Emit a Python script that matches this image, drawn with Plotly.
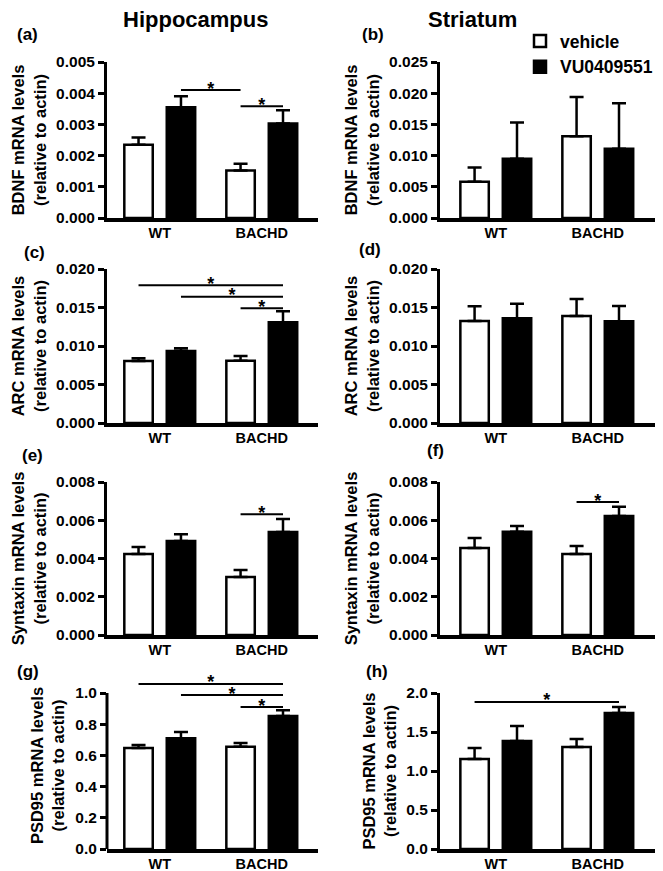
import plotly.graph_objects as go

# ---------------- data ----------------
groups = ["WT", "BACHD"]
series_names = ["vehicle", "VU0409551"]

panel_ids = ["a", "b", "c", "d", "e", "f", "g", "h"]
region_titles = ["Hippocampus", "Striatum"]
y_titles = [
    "BDNF mRNA levels<br>(relative to actin)",
    "BDNF mRNA levels<br>(relative to actin)",
    "ARC mRNA levels<br>(relative to actin)",
    "ARC mRNA levels<br>(relative to actin)",
    "Syntaxin mRNA levels<br>(relative to actin)",
    "Syntaxin mRNA levels<br>(relative to actin)",
    "PSD95 mRNA levels<br>(relative to actin)",
    "PSD95 mRNA levels<br>(relative to actin)",
]

vehicle_mean = [
    [0.00235, 0.00152],
    [0.0058, 0.0131],
    [0.00805, 0.0081],
    [0.01325, 0.0139],
    [0.00423, 0.00303],
    [0.00455, 0.00423],
    [0.647, 0.655],
    [1.154, 1.308],
]
vehicle_sem = [
    [0.00023, 0.00022],
    [0.0023, 0.0063],
    [0.00035, 0.0006],
    [0.0019, 0.0022],
    [0.00037, 0.00037],
    [0.00052, 0.00042],
    [0.020, 0.025],
    [0.141, 0.102],
]
drug_mean = [
    [0.00355, 0.00303],
    [0.0095, 0.0111],
    [0.00935, 0.0131],
    [0.0136, 0.0132],
    [0.00491, 0.00538],
    [0.0054, 0.00622],
    [0.71, 0.853],
    [1.385, 1.744],
]
drug_sem = [
    [0.00035, 0.00042],
    [0.0058, 0.0073],
    [0.00035, 0.0014],
    [0.0019, 0.0020],
    [0.00036, 0.00068],
    [0.0003, 0.00048],
    [0.040, 0.037],
    [0.192, 0.076],
]

y_max = [0.005, 0.025, 0.020, 0.020, 0.008, 0.008, 1.0, 2.0]
y_dtick = [0.001, 0.005, 0.005, 0.005, 0.002, 0.002, 0.2, 0.5]
y_format = [".3f", ".3f", ".3f", ".3f", ".3f", ".3f", ".1f", ".1f"]

# significance brackets: (from bar, to bar, height); bar index 0=WT veh, 1=WT VU, 2=BACHD veh, 3=BACHD VU
significance = [
    [(1, 2, 0.0041), (2, 3, 0.00358)],
    [],
    [(0, 3, 0.0179), (1, 3, 0.0164), (2, 3, 0.0149)],
    [],
    [(2, 3, 0.00632)],
    [(2, 3, 0.00695)],
    [(0, 3, 1.058), (1, 3, 0.987), (2, 3, 0.91)],
    [(0, 3, 1.885)],
]

# ---------------- layout geometry ----------------
PAGE_W, PAGE_H = 663, 871
PM = 8  # default body margin of the html page
W, H = PAGE_W - PM, PAGE_H - PM
FONT = "Liberation Sans, Arial, Helvetica, sans-serif"
BARGAP = 0.168
BARGROUPGAP = 0.33
OFF = (1 - BARGAP) / 4


def fx(px):
    return (px - PM) / W


def fy(py):
    return 1 - (py - PM) / H


col_px = [(107, 318), (440, 655)]
col_range = [(-0.517, 1.551), (-0.547, 1.561)]
row_px = [(62, 218), (269, 423), (482, 635), (693, 849)]  # page pixel of y_max and of 0

label_pos = [(27, 35), (373, 35), (34, 252), (370, 249), (32, 455), (436, 450), (28, 671), (377, 671)]


def bar_x(k):
    g = k // 2
    return g + (-OFF if k % 2 == 0 else OFF)


fig = go.Figure()
layout = dict(
    width=W, height=H,
    margin=dict(l=0, r=0, t=0, b=0, autoexpand=False),
    paper_bgcolor="white", plot_bgcolor="white",
    font=dict(family=FONT, color="black"),
    barmode="group", bargap=BARGAP, bargroupgap=BARGROUPGAP,
    showlegend=True,
    legend=dict(x=fx(520), y=fy(23), xanchor="left", yanchor="top",
                font=dict(family=FONT, size=17.5, weight="bold", color="black"),
                bgcolor="rgba(0,0,0,0)", traceorder="normal", itemwidth=30),
)

annotations = []
shapes = []
for i in range(8):
    n = i + 1
    r, c = divmod(i, 2)
    xs = "" if n == 1 else str(n)
    xa, ya = "x" + xs, "y" + xs
    x0, x1 = col_px[c]
    t0, t1 = row_px[r]
    # extend the value range when a bracket sits above the top tick
    top_val = max([y_max[i]] + [h * 1.012 for (_, _, h) in significance[i]])
    extended = top_val > y_max[i]
    ppu = (t1 - t0) / y_max[i]
    dom_top_px = t1 - top_val * ppu
    n_ticks = int(round(y_max[i] / y_dtick[i]))
    tickvals = [k * y_dtick[i] for k in range(n_ticks + 1)]

    layout["xaxis" + xs] = dict(
        domain=[fx(x0), fx(x1)], anchor=ya, range=list(col_range[c]),
        showline=True, linewidth=3.5, linecolor="black",
        ticks="", tickvals=[0, 1], ticktext=groups, ticklabelstandoff=-1,
        tickfont=dict(family=FONT, size=14.5, weight="bold", color="black"),
        showgrid=False, zeroline=False, fixedrange=True, automargin=False,
    )
    layout["yaxis" + xs] = dict(
        domain=[fy(t1), fy(dom_top_px)], anchor=xa, range=[0, top_val],
        showline=not extended, linewidth=3, linecolor="black",
        ticks="outside", ticklen=6, tickwidth=2.5, tickcolor="black",
        tickmode="array", tickvals=tickvals, tickformat=y_format[i],
        tickfont=dict(family=FONT, size=15.5, weight="bold", color="black"),
        title=dict(text=y_titles[i], standoff=6,
                   font=dict(family=FONT, size=16.5, weight="bold", color="black")),
        showgrid=False, zeroline=False, fixedrange=True, automargin=False,
    )
    if extended:
        # y-axis spine only up to the top tick
        shapes.append(dict(type="line", xref=xa + " domain", yref=ya,
                           x0=0, x1=0, y0=0, y1=y_max[i],
                           line=dict(color="black", width=3), layer="above"))

    for s, (means, sems, fill) in enumerate([(vehicle_mean, vehicle_sem, "white"),
                                              (drug_mean, drug_sem, "black")]):
        fig.add_trace(go.Bar(
            x=[0, 1], y=means[i], name=series_names[s],
            xaxis=xa, yaxis=ya, offsetgroup=str(s),
            marker=dict(color=fill, line=dict(color="black", width=2.5)),
            error_y=dict(type="data", array=sems[i], arrayminus=[0, 0], symmetric=False,
                         color="black", thickness=2.5, width=7),
            showlegend=(i == 1), legendgroup=series_names[s], hoverinfo="skip",
        ))

    for (a, b, h) in significance[i]:
        fig.add_trace(go.Scatter(
            x=[bar_x(a), bar_x(b)], y=[h, h], mode="lines",
            line=dict(color="black", width=2), cliponaxis=False,
            xaxis=xa, yaxis=ya, showlegend=False, hoverinfo="skip",
        ))
        fig.add_trace(go.Scatter(
            x=[(bar_x(a) + bar_x(b)) / 2], y=[h], mode="text", text=["*"],
            textposition="middle center",
            textfont=dict(family=FONT, size=18, weight="bold", color="black"),
            cliponaxis=False, xaxis=xa, yaxis=ya, showlegend=False, hoverinfo="skip",
        ))

    lx, ly = label_pos[i]
    annotations.append(dict(
        text="(" + panel_ids[i] + ")", x=fx(lx), y=fy(ly), xref="paper", yref="paper",
        xanchor="center", yanchor="middle", showarrow=False,
        font=dict(family=FONT, size=17, weight="bold", color="black"),
    ))

for c, (tx, ty) in enumerate([(195, 19), (472, 19)]):
    annotations.append(dict(
        text=region_titles[c], x=fx(tx), y=fy(ty), xref="paper", yref="paper",
        xanchor="center", yanchor="middle", showarrow=False,
        font=dict(family=FONT, size=22, weight="bold", color="black"),
    ))

layout["annotations"] = annotations
layout["shapes"] = shapes
fig.update_layout(**layout)
fig.write_html("out.html")
